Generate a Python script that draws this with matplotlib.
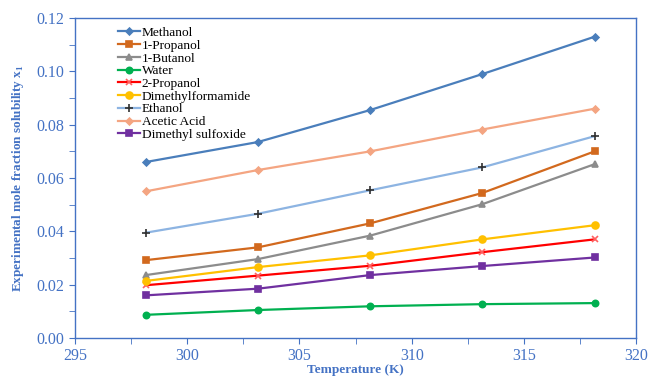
import matplotlib
matplotlib.use('Agg')
import matplotlib.pyplot as plt
from matplotlib.ticker import MultipleLocator

# temperatures (K)
temps = [298.15, 303.15, 308.15, 313.15, 318.15]

methanol = [0.0660, 0.0735, 0.0855, 0.0990, 0.1130]
propanol1 = [0.0292, 0.0340, 0.0430, 0.0544, 0.0700]
butanol1 = [0.0236, 0.0296, 0.0384, 0.0502, 0.0652]
water = [0.0087, 0.0105, 0.0119, 0.0127, 0.0131]
propanol2 = [0.0198, 0.0234, 0.0271, 0.0322, 0.0370]
dmf = [0.0214, 0.0266, 0.0310, 0.0370, 0.0423]
ethanol = [0.0395, 0.0466, 0.0554, 0.0640, 0.0757]
acetic = [0.0550, 0.0630, 0.0700, 0.0782, 0.0860]
dmso = [0.0160, 0.0185, 0.0236, 0.0270, 0.0302]

labels = ['Methanol', '1-Propanol', '1-Butanol', 'Water', '2-Propanol',
          'Dimethylformamide', 'Ethanol', 'Acetic Acid', 'Dimethyl sulfoxide']

plt.rcParams['font.family'] = ['Liberation Serif', 'DejaVu Serif']
blue = '#4472c4'

fig = plt.figure(figsize=(6.51, 3.76), dpi=100)
ax = fig.add_axes([0.1152, 0.101, 0.862, 0.851])

# series: values, line colour, marker, marker colour, marker size
series = [
    (methanol, '#4a7ebb', 'D', '#4a7ebb', 3.5),
    (propanol1, '#d2691e', 's', '#d2691e', 5),
    (butanol1, '#8c8c8c', '^', '#8c8c8c', 5),
    (water, '#00b050', 'o', '#00b050', 4.5),
    (propanol2, '#ff0000', 'x', '#ff6060', 5),
    (dmf, '#ffc000', 'o', '#ffc000', 5),
    (ethanol, '#8db4e2', '+', '#303030', 6),
    (acetic, '#f4a582', 'D', '#f4a582', 3.5),
    (dmso, '#7030a0', 's', '#7030a0', 5),
]

for (vals, col, mk, mcol, ms), lab in zip(series, labels):
    ax.plot(temps, vals, color=col, lw=1.6, marker=mk, ms=ms,
            mfc=mcol, mec=mcol, mew=1.2, label=lab)

ax.set_xlim(295, 320)
ax.set_ylim(0, 0.12)
ax.xaxis.set_major_locator(MultipleLocator(5))
ax.xaxis.set_minor_locator(MultipleLocator(2.5))
ax.yaxis.set_major_locator(MultipleLocator(0.02))
ax.yaxis.set_minor_locator(MultipleLocator(0.01))
ax.yaxis.set_major_formatter(plt.FuncFormatter(lambda v, p: f'{v:.2f}'))

for s in ax.spines.values():
    s.set_color(blue)
    s.set_linewidth(1.0)
ax.tick_params(which='both', direction='out', color=blue, length=4,
               labelcolor=blue, labelsize=11.5)
ax.tick_params(axis='x', pad=3.5)

ax.set_xlabel('Temperature (K)', color=blue, fontweight='bold', fontsize=9.5,
              labelpad=0)
ax.set_ylabel('Experimental mole fraction solubility x$_\\mathregular{1}$',
              color=blue, fontweight='bold', fontsize=9.5, labelpad=8)

leg = ax.legend(loc='upper left', bbox_to_anchor=(0.062, 1.0), frameon=False,
                fontsize=9.6, labelspacing=0.03, handlelength=1.6,
                handletextpad=0.15, borderaxespad=0.25)

fig.savefig('out.png', dpi=100)
